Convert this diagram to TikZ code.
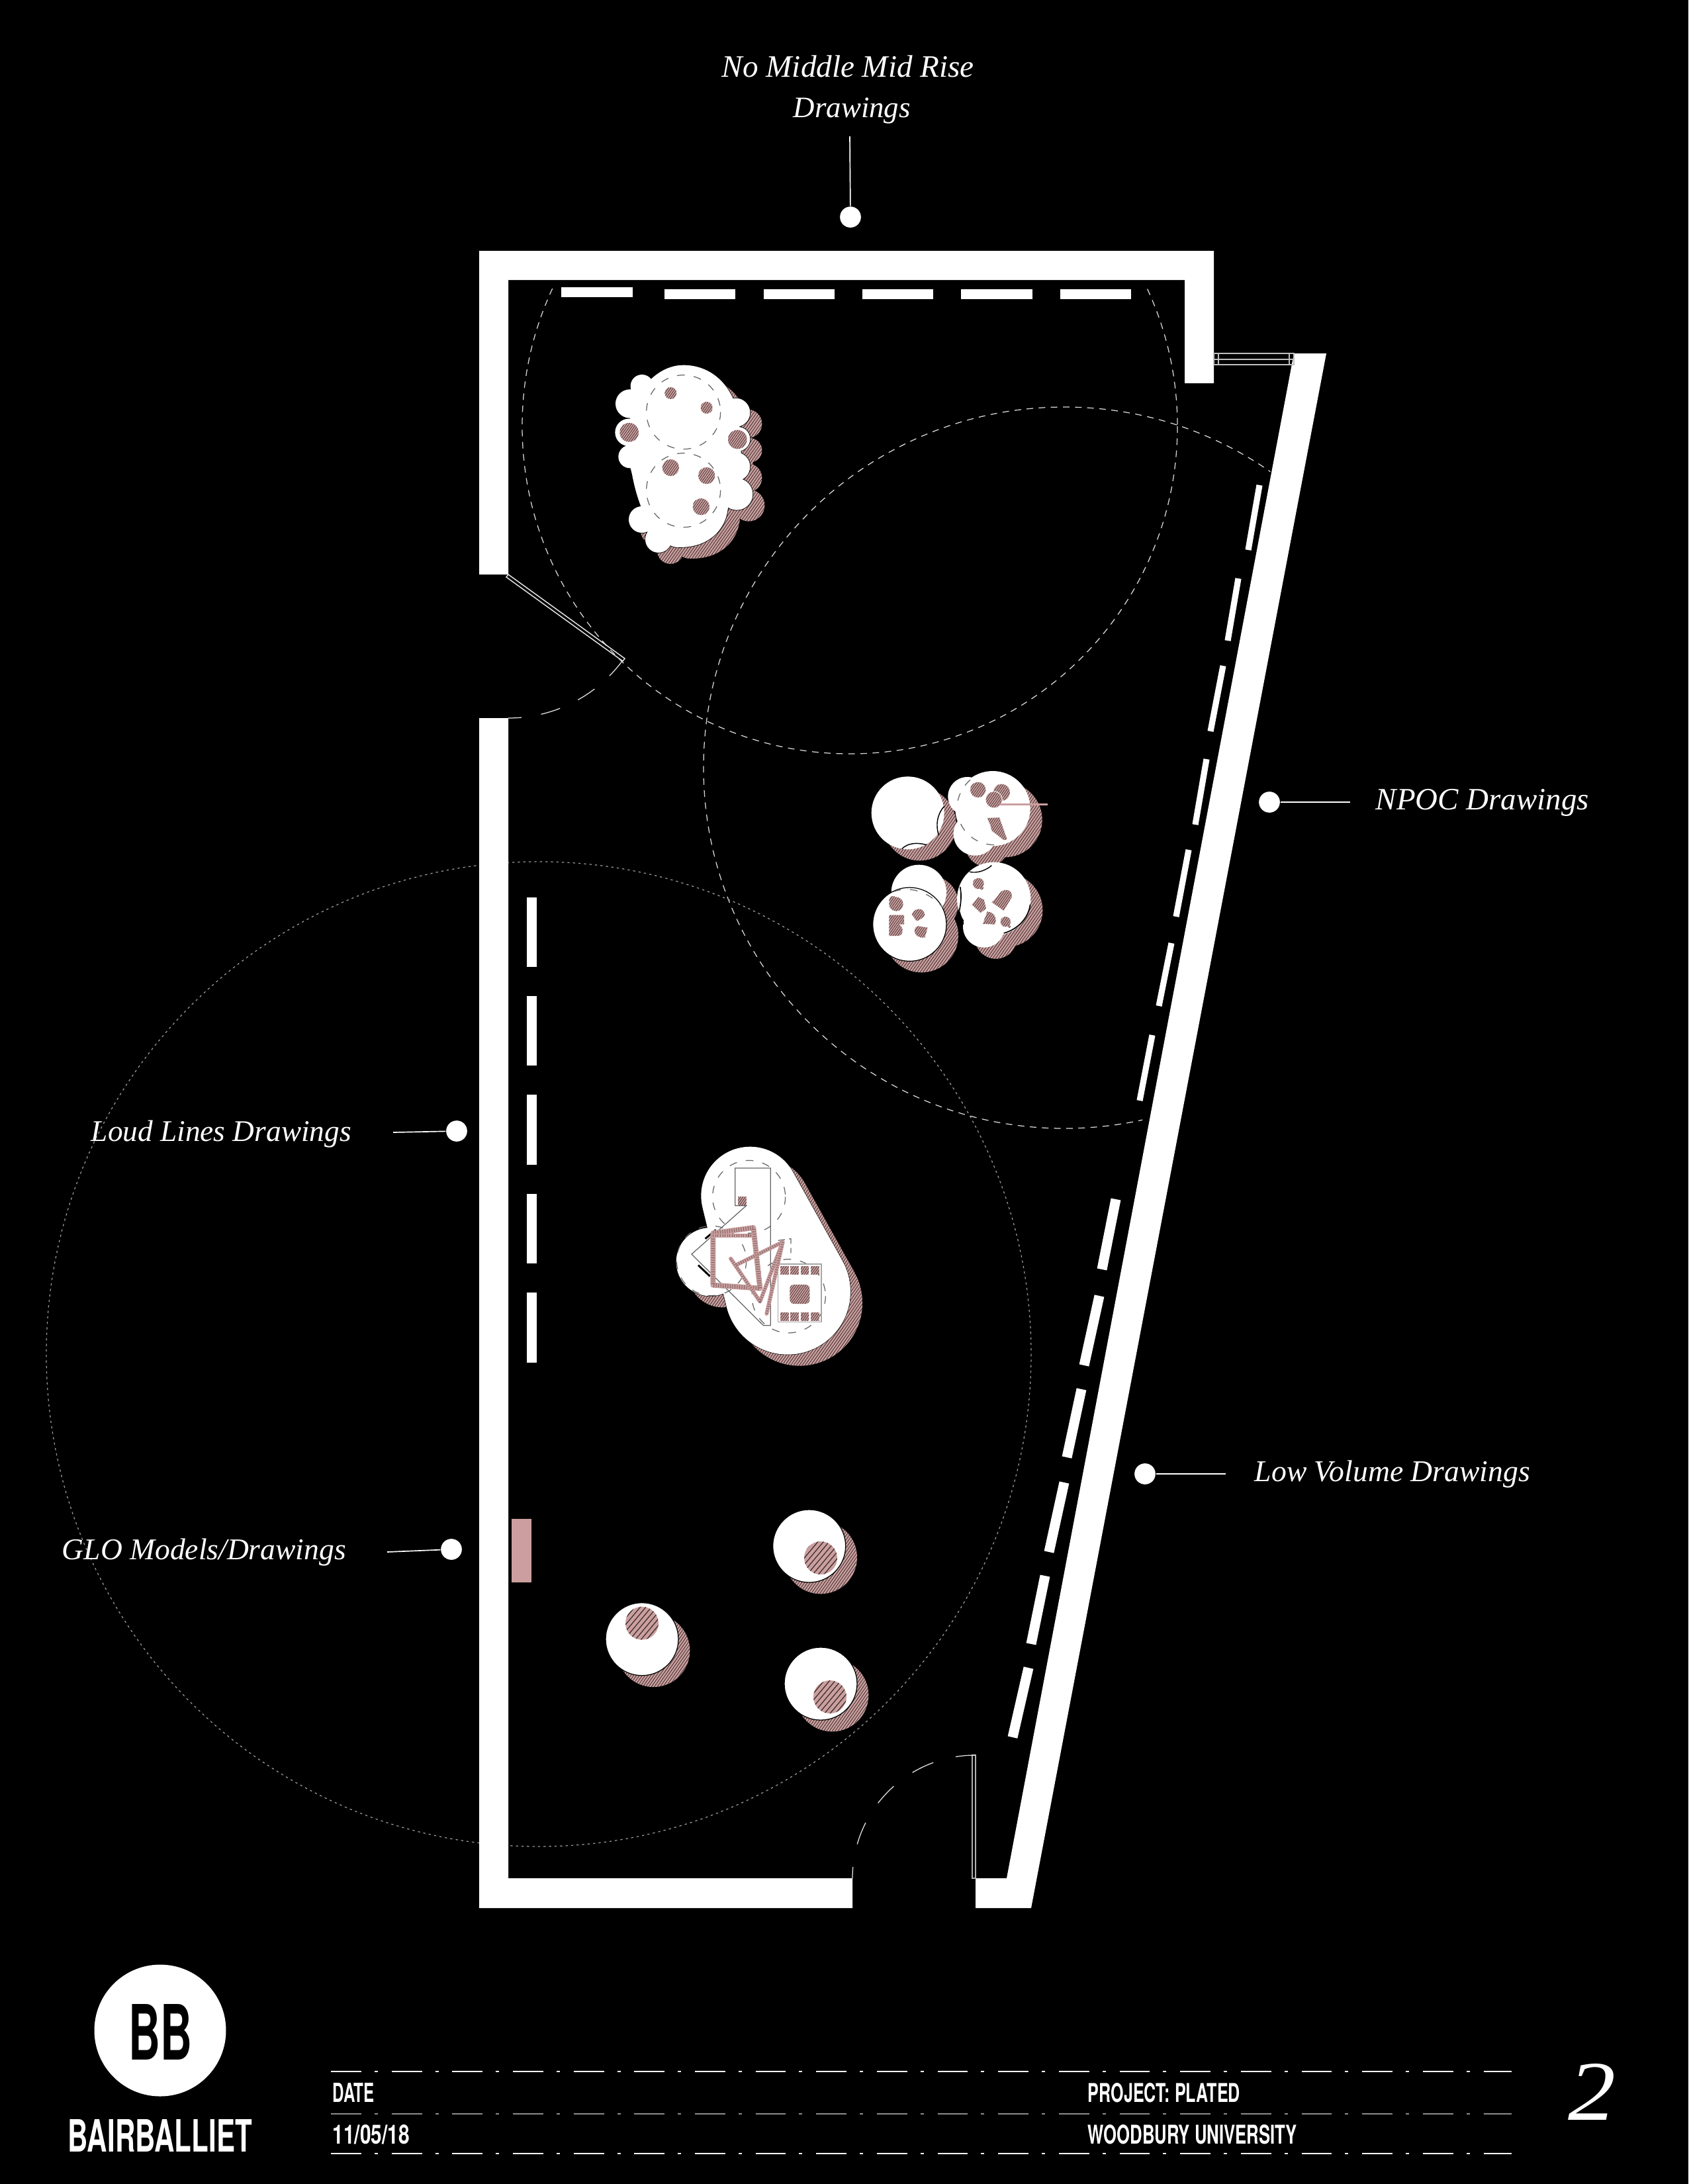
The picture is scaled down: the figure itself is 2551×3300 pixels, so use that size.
\documentclass[tikz,border=0pt]{standalone}
\usepackage{fontspec}
\setmainfont{Liberation Serif}
\newfontfamily\cond[FakeStretch=0.6]{TeX Gyre Heros}
\usetikzlibrary{patterns.meta}
\definecolor{pinkc}{HTML}{CB9F9F}
\definecolor{darkc}{HTML}{3A2A2A}
\definecolor{planc}{HTML}{666666}
\newcommand{\fitw}[2]{\resizebox{\dimexpr 0.24pt*#1\relax}{!}{#2}}
\newcommand{\fitwh}[3]{\resizebox{\dimexpr 0.24pt*#1\relax}{\dimexpr 0.24pt*#2\relax}{#3}}
\tikzset{
  wall/.style={fill=white,draw=none},
  shadowfill/.style={preaction={fill=pinkc},pattern={Lines[angle=55,distance=0.85pt,line width=0.2pt]},pattern color=darkc},
  hatchsmall/.style={preaction={fill=pinkc},pattern={Lines[angle=55,distance=0.7pt,line width=0.17pt]},pattern color=darkc},
  hatchbig/.style={preaction={fill=pinkc},pattern={Lines[angle=50,distance=1.55pt,line width=0.3pt]},pattern color=darkc},
  tabledash/.style={draw=planc,line width=0.3pt,dash pattern=on 2.8pt off 3.3pt},
  plan/.style={draw=planc,line width=0.3pt},
  scrib/.style={draw=pinkc,line width=#1*0.24pt,line join=round,line cap=round,postaction={draw=darkc!50!pinkc,line width=(#1-2)*0.24pt,dash pattern=on 0.25pt off 0.6pt,line cap=butt}},
  zoomscope/.style={shift={#1},x=0.08pt,y=-0.08pt},
  dotnode/.style={circle,fill=white,minimum size=7.6pt,inner sep=0pt},
  leader/.style={draw=white,line width=0.4pt},
  labeltext/.style={text=white,anchor=base west,inner sep=0pt,font=\fontsize{15}{18}\selectfont\itshape},
  condtext/.style={text=white,anchor=base west,inner sep=0pt,font=\cond\bfseries},
  ruleline/.style={draw=white,line width=0.4pt,dash pattern=on 11pt off 4.8pt on 1.2pt off 5pt},
  wdashA/.style={draw=white,line width=3.6pt,line cap=butt},
  wdashB/.style={draw=white,line width=2.2pt,line cap=butt},
  framel/.style={draw=#1,line width=0.35pt}
}
\begin{document}
\begin{tikzpicture}[x=0.24pt,y=-0.24pt]
\fill[black] (0,0) rectangle (2551,3300);
\useasboundingbox (0,0) rectangle (2551,3300);

% big reach circles
\begin{scope}
  \clip (700,430) rectangle (1850,1300);
  \draw[white!85!black,line width=0.3pt,dash pattern=on 2.4pt off 2pt] (1284,644) circle[radius=495];
\end{scope}
\begin{scope}
  \clip (0,0) -- (2060,0) -- (1705,1800) -- (0,1800) -- cycle;
  \draw[white!85!black,line width=0.3pt,dash pattern=on 2.4pt off 2pt] (1608,1160) circle[radius=545];
\end{scope}
\draw[white!60!black,line width=0.3pt,dash pattern=on 0.8pt off 1.2pt] (814,2046) circle[radius=744];

% walls
\fill[wall] (724,379) -- (1834,379) -- (1834,579) -- (1790,579) -- (1790,423) -- (768,423) -- (768,868) -- (724,868) -- cycle;
\fill[wall] (724,1085) -- (768,1085) -- (768,2838) -- (1288,2838) -- (1288,2883) -- (724,2883) -- cycle;
\fill[wall] (1955,534) -- (2004,534) -- (1558,2883) -- (1474,2883) -- (1474,2838) -- (1521,2838) -- cycle;

% window
\draw[framel=white!75!black] (1834,534) rectangle (1955,551);
\draw[framel=white!75!black] (1834,543) -- (1955,543) (1841,534) -- (1841,551) (1948,534) -- (1948,551);

% left door
\draw[framel=white!90!black] (768,868) -- (944,995) -- (941,999) -- (765,872) -- cycle;
\draw[white!90!black,line width=0.3pt,dash pattern=on 7.2pt off 7.2pt,dash phase=2.4pt] (768,1085) arc[start angle=90,end angle=36,radius=215];

% right door
\draw[framel=white!70!black] (1469,2838) -- (1469,2652) -- (1474,2652) -- (1474,2838) -- cycle;
\draw[white!90!black,line width=0.3pt,dash pattern=on 8.4pt off 8.4pt,dash phase=4.3pt] (1288,2838) arc[start angle=180,end angle=270,radius=186];

% wall dashes
\draw[wdashA] (848,441) -- (956,441);
\foreach \a/\b in {1004/1111,1154/1261,1303/1410,1452/1560,1602/1709}
  \draw[wdashA] (\a,444) -- (\b,444);
\foreach \a/\b in {1356/1461,1505/1610,1654/1760,1804/1909,1953/2059}
  \draw[wdashA] (803,\a) -- (803,\b);
\foreach \a/\b/\c/\d in {1903/733/1886/831,1871/874/1855/968,1848/1006/1829/1105,1823/1147/1806/1246,1796/1284/1777/1385,1770/1425/1751/1520,1741/1564/1722/1663}
  \draw[wdashB] (\a,\b) -- (\c,\d);
\foreach \a/\b/\c/\d in {1686/1812/1665/1918,1661/1958/1638/2063,1634/2099/1612/2202,1608/2240/1585/2345,1579/2381/1558/2484,1554/2520/1530/2625}
  \draw[wdashA] (\a,\b) -- (\c,\d);

% GLO plinth
\fill[pinkc] (773,2295) rectangle (803,2391);

% Table 1
\newcommand{\tableone}{
  (458,95) .. controls (600,95) and (700,210) .. (710,360) .. controls (730,560) and (720,650) .. (660,740) .. controls (650,850) and (560,930) .. (420,920) .. controls (340,900) and (260,780) .. (225,590) .. controls (150,300) and (300,95) .. (458,95) -- cycle
  (270,190) circle[radius=52] (215,270) circle[radius=65] (210,400) circle[radius=62] (215,510) circle[radius=52]
  (695,310) circle[radius=65] (705,430) circle[radius=55] (695,555) circle[radius=65] (700,680) circle[radius=72]
  (270,795) circle[radius=60] (345,885) circle[radius=60]}
\begin{scope}[zoomscope={(880,520)}]
  \path[shadowfill,shift={(54,51)}] \tableone;
  \path[draw=black,line width=0.4pt] \tableone;
  \fill[white] \tableone;
  \draw[tabledash] (458,308) circle[radius=168] (458,662) circle[radius=168];
  \fill[hatchsmall] (400,222) circle[radius=27] (563,288) circle[radius=27] (400,560) circle[radius=38] (563,596) circle[radius=38] (538,737) circle[radius=38] (212,400) circle[radius=43] (703,432) circle[radius=43];
\end{scope}

% Table 2 cluster
\begin{scope}[zoomscope={(1290,1140)}]
  \path[shadowfill,shift={(54,51)}] (245,265) circle[radius=165];
  \path[shadowfill,shift={(54,51)}] (630,245) circle[radius=170] (515,190) circle[radius=88] (550,360) circle[radius=98];
  \path[shadowfill,shift={(54,51)}] (295,625) circle[radius=125] (253,770) circle[radius=167];
  \path[shadowfill,shift={(54,51)}] (635,655) circle[radius=167] (590,780) circle[radius=95] (540,670) circle[radius=70];
  \fill[white] (245,265) circle[radius=165];
  \fill[white] (630,245) circle[radius=170] (515,190) circle[radius=88] (550,360) circle[radius=98];
  \fill[white] (295,625) circle[radius=125];
  \draw[draw=black,line width=0.3pt,fill=white] (253,770) circle[radius=167];
  \fill[white] (635,655) circle[radius=167] (590,780) circle[radius=95] (540,670) circle[radius=70];
  % inner contour lines
  \draw[black,line width=0.35pt] (410,235) .. controls (378,270) and (370,320) .. (385,365);
  \draw[black,line width=0.35pt] (218,428) .. controls (245,400) and (290,398) .. (330,410);
  \draw[black,line width=0.35pt] (525,532) .. controls (560,540) and (600,525) .. (625,503);
  \draw[black,line width=0.4pt] (482,600) .. controls (490,640) and (485,680) .. (478,710) -- (497,770);
  \draw[black,line width=0.4pt] (680,810) .. controls (735,795) and (790,750) .. (800,680);
  \draw[tabledash] (528,115) .. controls (490,150) and (470,190) .. (468,240);
  \draw[tabledash] (485,315) .. controls (510,370) and (570,410) .. (640,410);
  \draw[tabledash] (180,622) .. controls (250,595) and (340,620) .. (405,695);
  % pink pieces
  \path[hatchsmall] (563,160) circle[radius=35] (670,172) circle[radius=38];
  \draw[white,line width=0.2pt,hatchsmall] (635,205) circle[radius=38];
  \draw[pinkc,line width=0.7pt] (660,226) -- (878,226);
  \path[hatchsmall] (605,288) -- (660,286) -- (695,385) -- (680,388) -- (625,345) -- (620,322) -- cycle;
  \path[hatchsmall] (192,678) circle[radius=32] (178,660) circle[radius=18];
  \path[hatchsmall] (160,728) -- (228,728) -- (228,770) -- (205,770) .. controls (228,785) and (225,815) .. (205,822) -- (160,822) -- cycle;
  \path[hatchsmall] (263,725) .. controls (275,695) and (315,690) .. (322,725) .. controls (320,735) and (310,745) .. (285,755) -- cycle;
  \path[hatchsmall] (335,785) -- (322,830) -- (305,830) .. controls (265,820) and (270,780) .. (292,778) -- cycle;
  \path[hatchsmall] (565,585) circle[radius=25] (580,605) circle[radius=8];
  \path[hatchsmall] (626,670) -- (655,638) .. controls (670,605) and (720,605) .. (717,645) -- (680,708) -- cycle;
  \path[hatchsmall] (535,680) -- (565,646) -- (590,658) -- (600,698) -- (575,718) -- cycle;
  \path[hatchsmall] (585,768) -- (605,712) .. controls (640,715) and (650,745) .. (640,770) -- cycle;
  \path[hatchsmall] (688,758) circle[radius=23] (705,780) circle[radius=6];
\end{scope}

% Table 3
\newcommand{\tablethree}{
  (400,260) circle[radius=222] (570,695) circle[radius=285] (220,560) circle[radius=155]
  (594,152) -- (819,556) -- (293,762) -- (184,312) -- cycle}
\begin{scope}[zoomscope={(1000,1720)}]
  \path[shadowfill,shift={(54,51)}] \tablethree;
  \path[draw=black,line width=0.3pt] \tablethree;
  \fill[white] \tablethree;
  \draw[tabledash] (395,265) circle[radius=165] (225,555) circle[radius=158] (575,715) circle[radius=167];
  \draw[plan] (332,305) -- (332,135) -- (493,135) -- (493,848) -- (460,848) -- (135,525) -- (383,305) -- cycle;
  \draw[draw=black,line width=0.7pt] (197,455) -- (245,415) (165,575) -- (218,625);
  \draw[draw=white!65!black,line width=0.35pt] (526,570) rectangle (723,832);
  \draw[tabledash,dash pattern=on 2.5pt off 1.5pt] (527,463) -- (585,455) -- (585,520);
  \path[hatchsmall] (345,265) rectangle (383,303);
  \foreach \a in {538,583,630,676}{
    \path[hatchsmall] (\a,580) rectangle (\a+37,617);
    \path[hatchsmall] (\a,790) rectangle (\a+37,827);
  }
  \path[hatchsmall,rounded corners=1.5pt] (580,663) rectangle (670,750);
  \draw[scrib=8] (232,430) -- (415,405) -- (445,680) -- (232,665) -- cycle;
  \draw[scrib=6] (232,440) -- (405,440);
  \draw[scrib=6] (312,545) -- (445,740) -- (548,470) -- (335,575);
  \draw[scrib=6] (548,470) -- (475,795);
\end{scope}

% Tables 4-6
\begin{scope}[zoomscope={(900,2250)}]
  \foreach \a/\b/\c/\d in {968/258/1020/312,210/680/210/608,1020/882/1062/942}{
    \path[shadowfill] (\a+52,\b+52) circle[radius=165];
    \draw[draw=black,line width=0.3pt,fill=white] (\a,\b) circle[radius=165];
    \path[hatchbig] (\c,\d) circle[radius=75];
  }
\end{scope}

% Labels with leaders
\node[dotnode] (d1) at (1285,328) {};
\coordinate (e1) at (1284,206);
\draw[leader] (e1) -- (d1);
\node[labeltext] (l1a) at (1090,116) {\fitw{381}{No Middle Mid Rise}};
\node[labeltext] (l1b) at (1198,177) {\fitw{177}{Drawings}};

\node[dotnode] (d2) at (1918,1212) {};
\coordinate (e2) at (2040,1212);
\draw[leader] (e2) -- (d2);
\node[labeltext] (l2) at (2078,1223) {\fitw{322}{NPOC Drawings}};

\node[dotnode] (d3) at (1730,2227) {};
\coordinate (e3) at (1852,2227);
\draw[leader] (e3) -- (d3);
\node[labeltext] (l3) at (1895,2238) {\fitw{416}{Low Volume Drawings}};

\node[dotnode] (d4) at (690,1709) {};
\coordinate (e4) at (594,1711);
\draw[leader] (e4) -- (d4);
\node[labeltext] (l4) at (137,1724) {\fitw{393}{Loud Lines Drawings}};

\node[dotnode] (d5) at (682,2341) {};
\coordinate (e5) at (585,2345);
\draw[leader] (e5) -- (d5);
\node[labeltext] (l5) at (93,2356) {\fitw{429}{GLO Models/Drawings}};

% Title block
\fill[white] (242,3068) circle[radius=99.5];
\node[condtext,text=black] (bb) at (194,3112) {\fitwh{96}{84}{BB}};
\node[condtext] (firm) at (102,3251) {\fitwh{278}{49}{BAIRBALLIET}};
\coordinate (r1a) at (500,3130); \coordinate (r1b) at (2284,3130);
\coordinate (r2a) at (500,3194); \coordinate (r2b) at (2284,3194);
\coordinate (r3a) at (500,3254); \coordinate (r3b) at (2284,3254);
\draw[ruleline] (r1a) -- (r1b);
\draw[ruleline,draw=white!55!black,line width=0.6pt] (r2a) -- (r2b);
\draw[ruleline] (r3a) -- (r3b);
\node[condtext] (date) at (502,3176) {\fitwh{63}{29}{DATE}};
\node[condtext] (dateval) at (502,3239) {\fitwh{116}{29}{11/05/18}};
\node[condtext] (proj) at (1643,3176) {\fitwh{230}{29}{PROJECT: PLATED}};
\node[condtext] (univ) at (1643,3239) {\fitwh{316}{29}{WOODBURY UNIVERSITY}};
\node[labeltext] (num) at (2369,3203) {\fitwh{72}{85}{2}};
\end{tikzpicture}
\end{document}
